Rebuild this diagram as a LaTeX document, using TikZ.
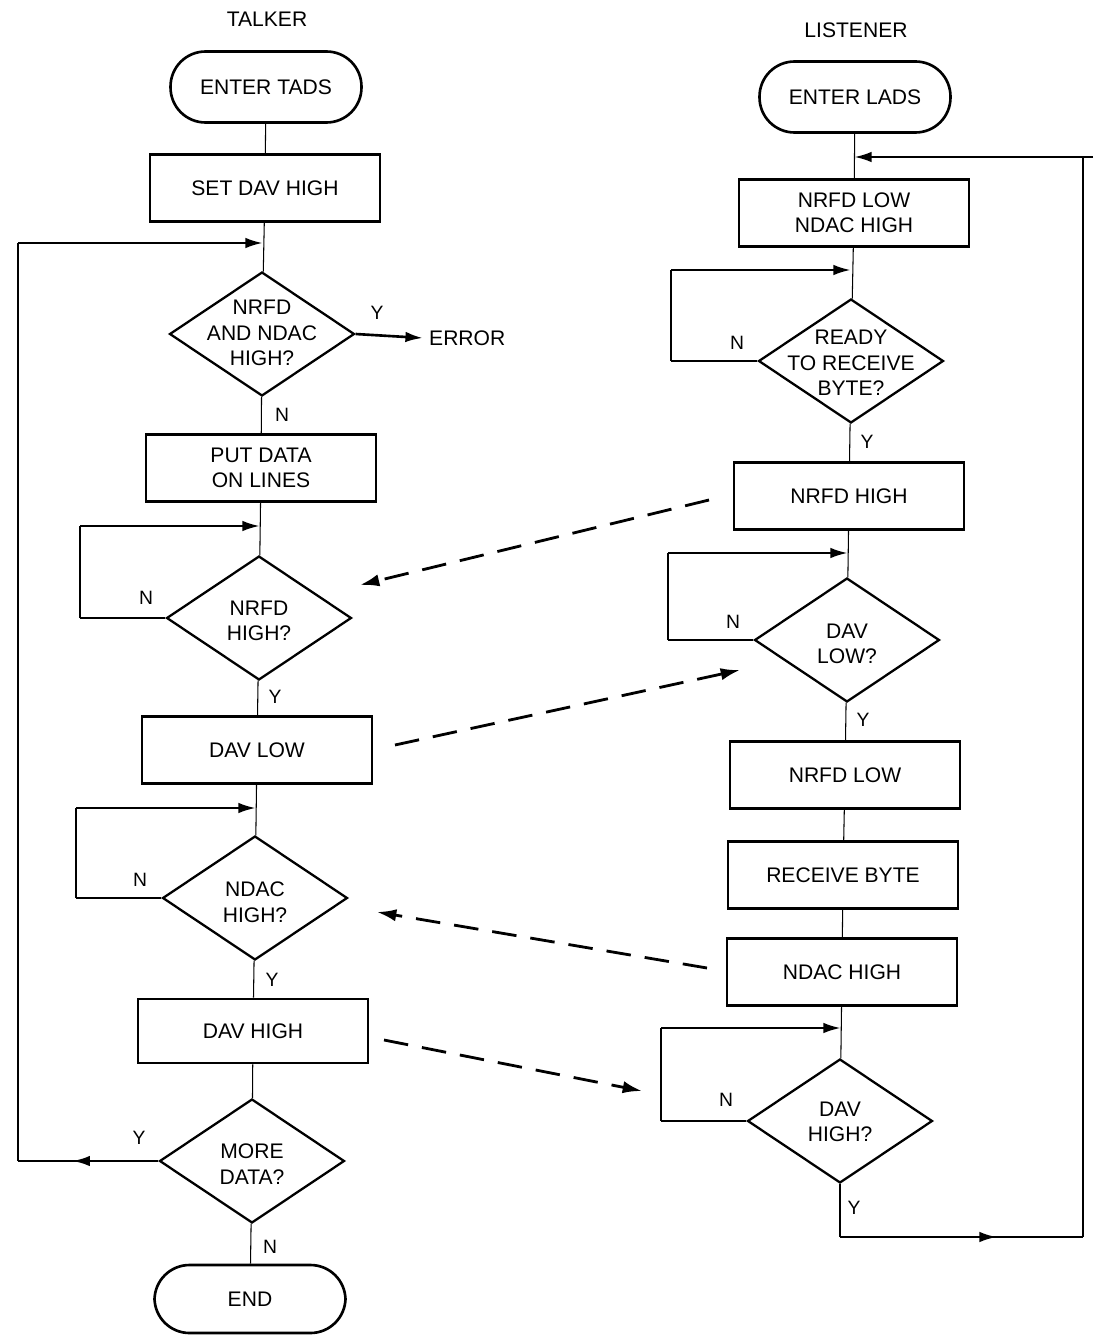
\documentclass[tikz,border=0pt]{standalone}
\usepackage{fontspec}
\setmainfont{Liberation Sans}
\usetikzlibrary{shapes.geometric,arrows.meta,calc,decorations.markings}
\begin{document}
\begin{tikzpicture}[x=0.02cm,y=-0.02cm,
  every node/.style={font=\fontsize{12}{14.5}\selectfont},
  box/.style={draw,line width=1.5pt,minimum width=4.6cm,minimum height=1.34cm,align=center,inner sep=2pt},
  term/.style={draw,line width=1.5pt,minimum width=3.82cm,minimum height=1.42cm,rounded corners=0.7cm},
  dia/.style={draw,diamond,line width=1.3pt,minimum width=3.7cm,minimum height=2.48cm,inner sep=0pt},
  dtext/.style={align=center,inner sep=0pt},
  lab/.style={font=\fontsize{11}{13}\selectfont,inner sep=0pt},
  flow/.style={line width=0.6pt},
  thickline/.style={line width=1.5pt},
  loopline/.style={line width=1.5pt,-{Latex[length=10pt,width=6pt]}},
  midarrow/.style={postaction={decorate},decoration={markings,mark=at position #1 with {\arrow{Latex[length=10pt,width=6pt]}}}},
  sig/.style={line width=1.6pt,dash pattern=on 14pt off 8pt,-{Latex[length=11pt,width=7pt]}},
]
\useasboundingbox (0,0) rectangle (1093,1335);

% ---------------- TALKER ----------------
\node (talker) at (267,19) {TALKER};
\node[term] (tads) at (266,87) {ENTER TADS};
\node[box] (setdav) at (265,188) {SET DAV HIGH};
\coordinate (c1) at (263,243);
\coordinate (lx) at (18,243);
\node[dia] (d1) at (262,334) {};
\node[dtext] (d1t) at (262,333) {NRFD\\AND NDAC\\HIGH?};
\node[anchor=west] (err) at (423,338) {ERROR};
\node[lab] (d1y) at (377,313) {Y};
\node[lab] (d1n) at (282,415) {N};
\node[box] (putdata) at (261,468) {PUT DATA\\ON LINES};
\coordinate (c2) at (260,526);
\coordinate (l2) at (80,526);
\node[dia] (d2) at (259,618) {};
\node[dtext] (d2t) at (259,621) {NRFD\\HIGH?};
\node[lab] (d2n) at (146,598) {N};
\node[lab] (d2y) at (275,697) {Y};
\node[box] (davlow) at (257,750) {DAV LOW};
\coordinate (c3) at (256,808);
\coordinate (l3) at (76,808);
\node[dia] (d3) at (255,898) {};
\node[dtext] (d3t) at (255,902) {NDAC\\HIGH?};
\node[lab] (d3n) at (140,880) {N};
\node[lab] (d3y) at (272,980) {Y};
\node[box,minimum height=1.28cm] (davhigh) at (253,1031) {DAV HIGH};
\node[dia] (d4) at (252,1161) {};
\node[dtext] (d4t) at (252,1164) {MORE\\DATA?};
\node[lab] (d4y) at (139,1138) {Y};
\node[lab] (d4n) at (270,1247) {N};
\node[term,minimum height=1.36cm] (endt) at (250,1299) {END};

\draw[flow] (tads) -- (setdav);
\draw[flow] (setdav) -- (d1);
\draw[loopline] (d1.east) -- (err.west);
\draw[flow] (d1) -- (putdata);
\draw[flow] (putdata) -- (d2);
\draw[thickline] (d2.west) -- (d2.west -| l2);
\draw[flow] (d2.west -| l2) -- (l2);
\draw[loopline] (l2) -- (c2);
\draw[flow] (d2) -- (davlow);
\draw[flow] (davlow) -- (d3);
\draw[thickline] (d3.west) -- (d3.west -| l3);
\draw[flow] (d3.west -| l3) -- (l3);
\draw[loopline] (l3) -- (c3);
\draw[flow] (d3) -- (davhigh);
\draw[flow] (davhigh) -- (d4);
\draw[flow] (d4) -- (endt);
\draw[thickline,midarrow=1.72cm] (d4.west) -- (d4.west -| lx);
\draw[flow] (d4.west -| lx) -- (lx);
\draw[loopline] (lx) -- (c1);

% ---------------- LISTENER ----------------
\node (listener) at (856,30) {LISTENER};
\node[term] (lads) at (855,97) {ENTER LADS};
\coordinate (rm) at (854,157);
\coordinate (rt) at (1083,157);
\coordinate (rstub) at (1093,157);
\node[box] (nlnh) at (854,213) {NRFD LOW\\NDAC HIGH};
\coordinate (m1) at (851,270);
\coordinate (k1) at (671,270);
\node[dia] (dl1) at (851,361) {};
\node[dtext] (dl1t) at (851,363) {READY\\TO RECEIVE\\BYTE?};
\node[lab] (dl1n) at (737,343) {N};
\node[lab] (dl1y) at (867,442) {Y};
\node[box] (nrfdh) at (849,496) {NRFD HIGH};
\coordinate (m2) at (848,553);
\coordinate (k2) at (668,553);
\node[dia] (dl2) at (847,640) {};
\node[dtext] (dl2t) at (847,644) {DAV\\LOW?};
\node[lab] (dl2n) at (733,622) {N};
\node[lab] (dl2y) at (863,720) {Y};
\node[box] (nrfdl) at (845,775) {NRFD LOW};
\node[box] (recv) at (843,875) {RECEIVE BYTE};
\node[box] (ndach) at (842,972) {NDAC HIGH};
\coordinate (m3) at (841,1028);
\coordinate (k3) at (661,1028);
\node[dia] (dl3) at (840,1121) {};
\node[dtext] (dl3t) at (840,1122) {DAV\\HIGH?};
\node[lab] (dl3n) at (726,1100) {N};
\node[lab] (dl3y) at (854,1208) {Y};
\coordinate (rb) at (1083,1237);

\draw[flow] (lads) -- (nlnh);
\draw[flow] (nlnh) -- (dl1);
\draw[thickline] (dl1.west) -- (dl1.west -| k1);
\draw[flow] (dl1.west -| k1) -- (k1);
\draw[loopline] (k1) -- (m1);
\draw[flow] (dl1) -- (nrfdh);
\draw[flow] (nrfdh) -- (dl2);
\draw[thickline] (dl2.west) -- (dl2.west -| k2);
\draw[flow] (dl2.west -| k2) -- (k2);
\draw[loopline] (k2) -- (m2);
\draw[flow] (dl2) -- (nrfdl);
\draw[flow] (nrfdl) -- (recv);
\draw[flow] (recv) -- (ndach);
\draw[flow] (ndach) -- (dl3);
\draw[thickline] (dl3.west) -- (dl3.west -| k3);
\draw[flow] (dl3.west -| k3) -- (k3);
\draw[loopline] (k3) -- (m3);
\draw[flow] (dl3.south) -- (dl3.south |- rb);
\draw[thickline,midarrow=3.14cm] (dl3.south |- rb) -- (rb);
\draw[flow] (rb) -- (rt);
\draw[loopline] (rstub) -- (rm);

% ---------------- handshake signals ----------------
\coordinate (da1s) at (709,500);
\coordinate (da1e) at (360,585);
\coordinate (da2s) at (395,745);
\coordinate (da2e) at (740,670);
\coordinate (da3s) at (707,968);
\coordinate (da3e) at (377,912);
\coordinate (da4s) at (384,1040);
\coordinate (da4e) at (642,1091);
\draw[sig] (da1s) -- (da1e);
\draw[sig] (da2s) -- (da2e);
\draw[sig] (da3s) -- (da3e);
\draw[sig] (da4s) -- (da4e);
\end{tikzpicture}
\end{document}
